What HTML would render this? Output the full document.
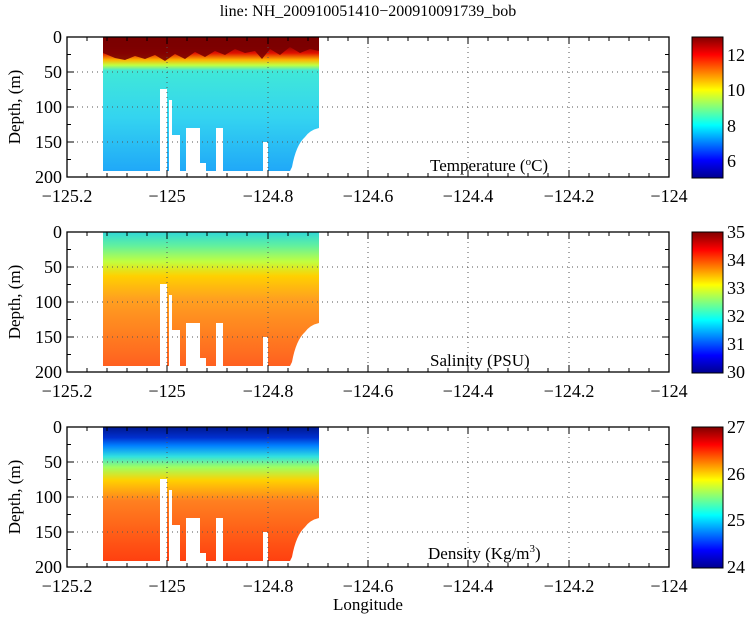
<!DOCTYPE html>
<html><head><meta charset="utf-8"><style>
html,body{margin:0;padding:0;background:#fff;}
svg, svg text{font-family:"Liberation Serif","DejaVu Serif","Times New Roman",serif;}
</style></head><body>
<svg width="750" height="618" viewBox="0 0 750 618" xmlns="http://www.w3.org/2000/svg" font-family="Liberation Serif, DejaVu Serif, serif">
<defs>
<linearGradient id="gt" x1="0" y1="0" x2="0" y2="1">
<stop offset="0" stop-color="#7a0000"/><stop offset="0.07" stop-color="#900000"/><stop offset="0.12" stop-color="#e01000"/><stop offset="0.17" stop-color="#ffb000"/><stop offset="0.21" stop-color="#c0ff40"/><stop offset="0.25" stop-color="#40e8d8"/><stop offset="0.6" stop-color="#34d4f0"/><stop offset="1" stop-color="#20a8f8"/></linearGradient>
<linearGradient id="gs" x1="0" y1="0" x2="0" y2="1">
<stop offset="0" stop-color="#30d8d8"/><stop offset="0.1" stop-color="#60f0a0"/><stop offset="0.22" stop-color="#c0ff40"/><stop offset="0.33" stop-color="#ffd000"/><stop offset="0.5" stop-color="#ffa020"/><stop offset="1" stop-color="#ff6020"/></linearGradient>
<linearGradient id="gd" x1="0" y1="0" x2="0" y2="1">
<stop offset="0" stop-color="#001890"/><stop offset="0.08" stop-color="#0030d0"/><stop offset="0.14" stop-color="#0080ff"/><stop offset="0.22" stop-color="#30e0e0"/><stop offset="0.3" stop-color="#a0ff60"/><stop offset="0.4" stop-color="#ffd000"/><stop offset="0.55" stop-color="#ff8020"/><stop offset="1" stop-color="#ff4010"/></linearGradient>
<linearGradient id="jet" x1="0" y1="1" x2="0" y2="0">
<stop offset="0" stop-color="#00008f"/><stop offset="0.125" stop-color="#0000ff"/><stop offset="0.375" stop-color="#00ffff"/><stop offset="0.625" stop-color="#ffff00"/><stop offset="0.875" stop-color="#ff0000"/><stop offset="1" stop-color="#800000"/></linearGradient>
<g id="data">
<path d="M103,0 H319 V91 Q310,93 305,100 Q296,108 292,130 L290,134 H103 Z"/>
</g>
<g id="gaps" fill="#fff">
<rect x="160" y="52" width="7" height="86"/>
<rect x="169" y="63" width="3" height="75"/>
<rect x="172" y="98" width="8" height="40"/>
<rect x="186" y="91" width="14" height="47"/>
<rect x="200" y="126" width="6" height="12"/>
<rect x="216" y="91" width="7" height="47"/>
<rect x="263" y="105" width="5" height="33"/>
</g>
<g id="lines">
<g stroke="#555" stroke-width="1" stroke-dasharray="1,4">
<line x1="67" y1="35" x2="669" y2="35"/><line x1="67" y1="70" x2="669" y2="70"/><line x1="67" y1="105" x2="669" y2="105"/>
<line x1="167" y1="0" x2="167" y2="140"/><line x1="268" y1="0" x2="268" y2="140"/><line x1="368" y1="0" x2="368" y2="140"/><line x1="468" y1="0" x2="468" y2="140"/><line x1="569" y1="0" x2="569" y2="140"/>
</g>
<rect x="67" y="0" width="602" height="140" fill="none" stroke="#000" stroke-width="1.3"/>
<path stroke="#000" stroke-width="1" d="M67,35h7M67,70h7M67,105h7M662,35h7M662,70h7M662,105h7M67,17.5h4M67,52.5h4M67,87.5h4M67,122.5h4M665,17.5h4M665,52.5h4M665,87.5h4M665,122.5h4
M167,0v7M268,0v7M368,0v7M468,0v7M569,0v7M167,140v-7M268,140v-7M368,140v-7M468,140v-7M569,140v-7
M87,0v4M107,0v4M127,0v4M147,0v4M187,0v4M207,0v4M227,0v4M247,0v4M288,0v4M308,0v4M328,0v4M348,0v4M388,0v4M408,0v4M428,0v4M448,0v4M488,0v4M508,0v4M528,0v4M548,0v4M589,0v4M609,0v4M629,0v4M649,0v4
M87,140v-4M107,140v-4M127,140v-4M147,140v-4M187,140v-4M207,140v-4M227,140v-4M247,140v-4M288,140v-4M308,140v-4M328,140v-4M348,140v-4M388,140v-4M408,140v-4M428,140v-4M448,140v-4M488,140v-4M508,140v-4M528,140v-4M548,140v-4M589,140v-4M609,140v-4M629,140v-4M649,140v-4"/>
<rect x="692" y="0" width="31" height="141" fill="url(#jet)" stroke="#000" stroke-width="1"/>
</g>
</defs>
<text x="368" y="16" font-size="16" text-anchor="middle">line: NH_200910051410−200910091739_bob</text>

<g transform="translate(0,37)">
<use href="#data" fill="url(#gt)"/><use href="#gaps"/>
<path d="M103,0 H319 V14 L310,12 L300,16 L290,10 L280,18 L270,12 L262,22 L255,14 L245,16 L235,12 L225,18 L215,14 L205,20 L195,15 L185,22 L175,17 L165,24 L155,18 L145,22 L135,19 L125,23 L115,21 L103,16 Z" fill="#7a0000" opacity="0.9"/>
<use href="#lines"/>
<g font-size="18" text-anchor="end"><text x="62" y="6">0</text><text x="62" y="41">50</text><text x="62" y="76">100</text><text x="62" y="111">150</text><text x="62" y="146">200</text></g>
<g font-size="18" text-anchor="middle"><text x="67" y="165">−125.2</text><text x="167" y="165">−125</text><text x="268" y="165">−124.8</text><text x="368" y="165">−124.6</text><text x="468" y="165">−124.4</text><text x="569" y="165">−124.2</text><text x="669" y="165">−124</text></g>
<text font-size="17" text-anchor="middle" transform="translate(20,70) rotate(-90)">Depth, (m)</text>
<g font-size="18"><text x="727" y="24">12</text><text x="727" y="59">10</text><text x="727" y="95">8</text><text x="727" y="130">6</text></g>
<text x="430" y="134" font-size="17">Temperature (<tspan font-size="11" dy="-6">o</tspan><tspan dy="6">C)</tspan></text>
</g>

<g transform="translate(0,232)">
<use href="#data" fill="url(#gs)"/><use href="#gaps"/>
<use href="#lines"/>
<g font-size="18" text-anchor="end"><text x="62" y="6">0</text><text x="62" y="41">50</text><text x="62" y="76">100</text><text x="62" y="111">150</text><text x="62" y="146">200</text></g>
<g font-size="18" text-anchor="middle"><text x="67" y="165">−125.2</text><text x="167" y="165">−125</text><text x="268" y="165">−124.8</text><text x="368" y="165">−124.6</text><text x="468" y="165">−124.4</text><text x="569" y="165">−124.2</text><text x="669" y="165">−124</text></g>
<text font-size="17" text-anchor="middle" transform="translate(20,70) rotate(-90)">Depth, (m)</text>
<g font-size="18"><text x="727" y="6">35</text><text x="727" y="34">34</text><text x="727" y="62">33</text><text x="727" y="90">32</text><text x="727" y="118">31</text><text x="727" y="146">30</text></g>
<text x="430" y="134" font-size="17">Salinity (PSU)</text>
</g>

<g transform="translate(0,427)">
<use href="#data" fill="url(#gd)"/><use href="#gaps"/>
<use href="#lines"/>
<g font-size="18" text-anchor="end"><text x="62" y="6">0</text><text x="62" y="41">50</text><text x="62" y="76">100</text><text x="62" y="111">150</text><text x="62" y="146">200</text></g>
<g font-size="18" text-anchor="middle"><text x="67" y="165">−125.2</text><text x="167" y="165">−125</text><text x="268" y="165">−124.8</text><text x="368" y="165">−124.6</text><text x="468" y="165">−124.4</text><text x="569" y="165">−124.2</text><text x="669" y="165">−124</text></g>
<text font-size="17" text-anchor="middle" transform="translate(20,70) rotate(-90)">Depth, (m)</text>
<g font-size="18"><text x="727" y="6">27</text><text x="727" y="53">26</text><text x="727" y="99">25</text><text x="727" y="146">24</text></g>
<text x="428" y="132" font-size="17">Density (Kg/m<tspan font-size="11" dy="-7">3</tspan><tspan dy="7">)</tspan></text>
</g>
<text x="368" y="610" font-size="17" text-anchor="middle">Longitude</text>
</svg>
</body></html>
